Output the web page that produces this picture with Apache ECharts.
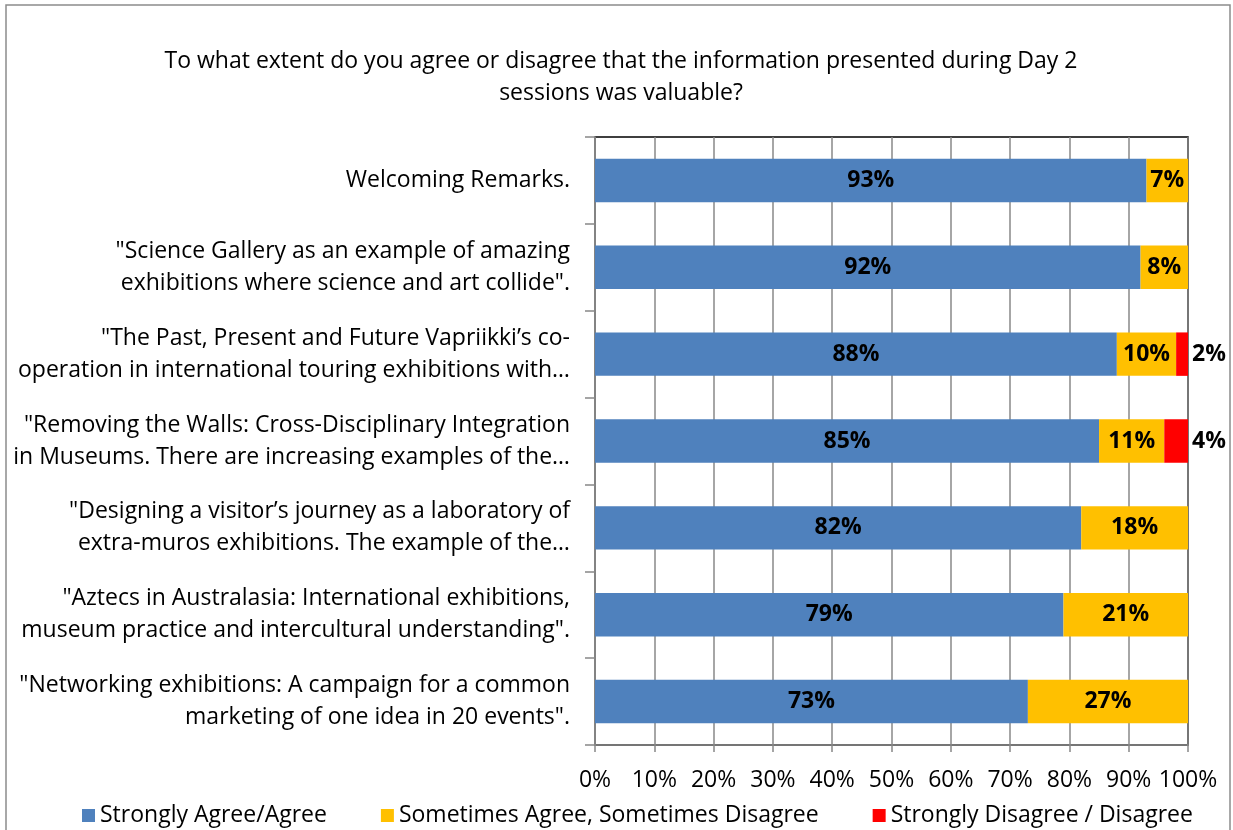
<!DOCTYPE html>
<html>
<head>
<meta charset="utf-8">
<script src="https://cdn.jsdelivr.net/npm/echarts@6/dist/echarts.min.js"></script>
<style>
  html, body { margin: 0; padding: 0; background: #fff; }
  #main { width: 1233px; height: 830px; }
</style>
</head>
<body>
<div id="main"></div>
<script>
// data, top to bottom
const categories = [
  'Welcoming Remarks.',
  '"Science Gallery as an example of amazing\nexhibitions where science and art collide".',
  '"The Past, Present and Future Vapriikki\u2019s co-\noperation in international touring exhibitions with\u2026',
  '"Removing the Walls: Cross-Disciplinary Integration\nin Museums. There are increasing examples of the\u2026',
  '"Designing a visitor\u2019s journey as a laboratory of\nextra-muros exhibitions. The example of the\u2026',
  '"Aztecs in Australasia: International exhibitions,\nmuseum practice and intercultural understanding".',
  '"Networking exhibitions: A campaign for a common\nmarketing of one idea in 20 events".'
];
const agree = [93, 92, 88, 85, 82, 79, 73];
const sometimes = [7, 8, 10, 11, 18, 21, 27];
const disagree = [0, 0, 2, 4, 0, 0, 0];
const xTicks = [0, 10, 20, 30, 40, 50, 60, 70, 80, 90, 100];

const FONT = 'Open Sans';
const FS = 23;
const chart = echarts.init(document.getElementById('main'));

const segLabel = {
  show: true,
  position: 'inside',
  color: '#000',
  fontWeight: 'bold',
  fontSize: FS,
  fontFamily: FONT,
  formatter: p => p.value > 0 ? p.value + '%' : ''
};

chart.setOption({
  animation: false,
  textStyle: { fontFamily: FONT },
  graphic: [{
    type: 'rect',
    shape: { x: 6, y: 5, width: 1224, height: 840 },
    style: { fill: 'none', stroke: '#8c8c8c', lineWidth: 1.5 },
    silent: true
  }],
  title: {
    text: 'To what extent do you agree or disagree that the information presented during Day 2\nsessions was valuable?',
    left: 616,
    textAlign: 'center',
    top: 40,
    textStyle: { fontSize: FS, fontWeight: 'normal', color: '#000', lineHeight: 32, fontFamily: FONT }
  },
  legend: {
    top: 799,
    left: 77,
    itemWidth: 13,
    itemHeight: 13,
    itemGap: 54,
    icon: 'rect',
    textStyle: { fontSize: FS, color: '#000', fontFamily: FONT }
  },
  grid: {
    left: 595, right: 45, top: 137, bottom: 85,
    show: true, borderColor: '#000', borderWidth: 1.5
  },
  xAxis: {
    type: 'value',
    min: 0, max: 100, interval: 10,
    axisLine: { show: true, lineStyle: { color: '#888', width: 1.5 } },
    axisTick: { show: true, length: 7, lineStyle: { color: '#888', width: 1.5 } },
    splitLine: { lineStyle: { color: '#888', width: 1.5 } },
    axisLabel: {
      margin: 24, fontSize: FS, color: '#000', fontFamily: FONT,
      formatter: v => xTicks.indexOf(v) >= 0 ? v + '%' : ''
    }
  },
  yAxis: {
    type: 'category',
    inverse: true,
    data: categories,
    axisLine: { show: true, lineStyle: { color: '#888', width: 1.5 } },
    axisTick: { show: true, length: 10, inside: false, lineStyle: { color: '#888', width: 1.5 } },
    axisLabel: {
      margin: 25, fontSize: FS, color: '#000', lineHeight: 32, align: 'right', fontFamily: FONT
    }
  },
  series: [
    {
      name: 'Strongly Agree/Agree', type: 'bar', stack: 'all', data: agree,
      barWidth: '50%', itemStyle: { color: '#4F81BD' }, label: segLabel
    },
    {
      name: 'Sometimes Agree, Sometimes Disagree', type: 'bar', stack: 'all', data: sometimes,
      barWidth: '50%', itemStyle: { color: '#FFC000' }, label: segLabel
    },
    {
      name: 'Strongly Disagree / Disagree', type: 'bar', stack: 'all', data: disagree,
      barWidth: '50%', itemStyle: { color: '#FF0000' },
      label: Object.assign({}, segLabel, { position: 'right', distance: 4 })
    }
  ]
});
</script>
</body>
</html>
